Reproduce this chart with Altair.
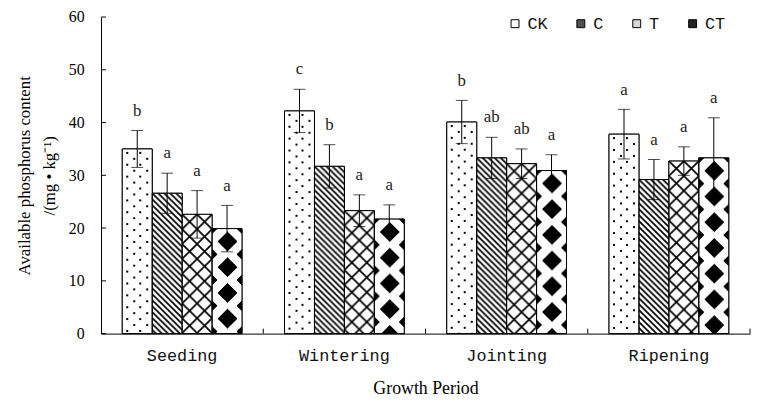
import base64
import altair as alt
import pandas as pd

# ---------------- data ----------------
periods = ["Seeding", "Wintering", "Jointing", "Ripening"]
treatments = ["CK", "C", "T", "CT"]

ck_vals = [35.0, 42.2, 40.1, 37.8]
c_vals = [26.6, 31.7, 33.3, 29.2]
t_vals = [22.6, 23.3, 32.2, 32.7]
ct_vals = [19.9, 21.7, 30.9, 33.3]

ck_err = [3.5, 4.1, 4.1, 4.7]
c_err = [3.8, 4.1, 3.9, 3.8]
t_err = [4.5, 3.0, 2.8, 2.7]
ct_err = [4.4, 2.7, 3.0, 7.6]

ck_sig = ["b", "c", "b", "a"]
c_sig = ["a", "b", "ab", "a"]
t_sig = ["a", "a", "ab", "a"]
ct_sig = ["a", "a", "a", "a"]

y_ticks = [0, 10, 20, 30, 40, 50, 60]

# ---------------- fill patterns (SVG tiles) ----------------
PLOT_W = 656
PLOT_H = 320
STEP = PLOT_W / len(periods)
GROUP_W = 121
BAR_W = GROUP_W / len(treatments)
IMG_H = 340


def svg_uri(pattern_body, tw, th):
    svg = (
        '<svg xmlns="http://www.w3.org/2000/svg" width="30" height="340" '
        'viewBox="0 0 30 340" shape-rendering="crispEdges">'
        f'<defs><pattern id="p" width="{tw}" height="{th}" patternUnits="userSpaceOnUse">'
        f'{pattern_body}</pattern></defs>'
        '<rect width="30" height="340" fill="#ffffff"/>'
        '<rect width="30" height="340" fill="url(#p)"/></svg>'
    )
    return "data:image/svg+xml;base64," + base64.b64encode(svg.encode()).decode()


patterns = {
    "CK": svg_uri(
        '<rect x="4" y="3" width="2.4" height="2.4" fill="#000"/>'
        '<rect x="10.5" y="9" width="2.4" height="2.4" fill="#000"/>',
        13, 12),
    "C": svg_uri(
        '<path d="M0,0 L6,6 M-1,5 L1,7 M5,-1 L7,1" stroke="#000" stroke-width="1.7" '
        'shape-rendering="auto"/>',
        6, 6),
    "T": svg_uri(
        '<path d="M0,0 L15,15 M15,0 L0,15" stroke="#000" stroke-width="1.7" '
        'shape-rendering="auto"/>',
        15, 15),
    "CT": svg_uri(
        '<polygon points="15,3 25,13 15,23 5,13" fill="#000"/>'
        '<polygon points="0,-6 5,0 0,6" fill="#000"/>'
        '<polygon points="0,20 5,26 0,32" fill="#000"/>'
        '<polygon points="30,-6 25,0 30,6" fill="#000"/>'
        '<polygon points="30,20 25,26 30,32" fill="#000"/>',
        30, 26),
}

# ---------------- tables ----------------
vals = {"CK": ck_vals, "C": c_vals, "T": t_vals, "CT": ct_vals}
errs = {"CK": ck_err, "C": c_err, "T": t_err, "CT": ct_err}
sigs = {"CK": ck_sig, "C": c_sig, "T": t_sig, "CT": ct_sig}

rows = []
for tr in treatments:
    for i, p in enumerate(periods):
        v = vals[tr][i]
        e = errs[tr][i]
        rows.append({
            "period": p, "treatment": tr, "value": v,
            "lo": v - e, "hi": v + e, "sig": sigs[tr][i],
            "pattern": patterns[tr],
        })
df = pd.DataFrame(rows)

bounds_df = pd.DataFrame({"b": list(range(1, len(periods) + 1))})
yticks_df = pd.DataFrame({"v": y_ticks})

SERIF = "Liberation Serif"
MONO = "Liberation Mono"

x_enc = alt.X(
    "period:N", sort=periods,
    scale=alt.Scale(paddingInner=(STEP - GROUP_W) / STEP,
                    paddingOuter=(STEP - GROUP_W) / STEP / 2),
    axis=alt.Axis(title="Growth Period", labelAngle=0, ticks=False,
                  labelFont=MONO, labelFontSize=17, labelColor="#111",
                  labelPadding=14, titleFont=SERIF, titleFontSize=18,
                  titleFontWeight="normal", titleColor="#000", titlePadding=17,
                  domainColor="#000", domainWidth=1, zindex=1),
)
xo_enc = alt.XOffset("treatment:N", sort=treatments,
                     scale=alt.Scale(paddingInner=0, paddingOuter=0))
y_scale = alt.Scale(domain=[0, 60], nice=False)
y_axis = alt.Axis(values=y_ticks, ticks=False, grid=False,
                  title=["Available phosphorus content", "/(mg • kg⁻¹)"],
                  labelFont=SERIF, labelFontSize=16, labelColor="#000",
                  labelPadding=17, titleFont=SERIF, titleFontSize=17,
                  titleFontWeight="normal", titleColor="#000",
                  titleLineHeight=25, titlePadding=10,
                  domainColor="#000", domainWidth=1, zindex=1)

base = alt.Chart(df).encode(x=x_enc, xOffset=xo_enc)

fill_bars = base.mark_bar(stroke="black", strokeWidth=1).encode(
    y=alt.Y("value:Q", scale=y_scale, axis=y_axis),
    color=alt.Color("treatment:N", sort=treatments,
                    scale=alt.Scale(domain=treatments,
                                    range=["#ffffff", "#505050", "#d8d8d8", "#222222"]),
                    legend=alt.Legend(title=None, orient="none", direction="horizontal",
                                      legendX=410, legendY=-2, symbolType="square",
                                      symbolSize=64, symbolStrokeColor="black",
                                      symbolStrokeWidth=1, labelFont=MONO,
                                      labelFontSize=17, labelColor="#111",
                                      labelOffset=4, columnPadding=24.5, padding=0)),
)

pattern_imgs = base.mark_image(width=BAR_W, height=IMG_H, aspect=False,
                               align="center", baseline="top", clip=True).encode(
    y=alt.Y("value:Q", scale=y_scale, axis=y_axis),
    url=alt.Url("pattern:N"),
)

outline = base.mark_bar(filled=False, stroke="black", strokeWidth=1).encode(
    y=alt.Y("value:Q", scale=y_scale, axis=y_axis),
)

err_rule = base.mark_rule(color="black", strokeWidth=1).encode(
    y=alt.Y("lo:Q", scale=y_scale, axis=y_axis), y2="hi:Q")
cap_hi = base.mark_tick(color="black", thickness=1, size=12).encode(
    y=alt.Y("hi:Q", scale=y_scale, axis=y_axis))
cap_lo = base.mark_tick(color="black", thickness=1, size=12).encode(
    y=alt.Y("lo:Q", scale=y_scale, axis=y_axis))

letters = base.mark_text(baseline="alphabetic", dy=-15, font=SERIF, fontSize=17,
                         color="#222222").encode(
    y=alt.Y("hi:Q", scale=y_scale, axis=y_axis), text="sig:N")

y_tick_marks = alt.Chart(yticks_df).mark_rule(color="black", strokeWidth=1).encode(
    y=alt.Y("v:Q", scale=y_scale, axis=y_axis),
    x=alt.value(0), x2=alt.value(5),
)

band_layers = alt.layer(
    fill_bars, pattern_imgs, outline, err_rule, cap_hi, cap_lo, letters, y_tick_marks,
)

x_ticks = alt.Chart(bounds_df).mark_rule(color="black", strokeWidth=1).encode(
    x=alt.X("b:Q", scale=alt.Scale(domain=[0, len(periods)], nice=False), axis=None),
    y=alt.value(PLOT_H), y2=alt.value(PLOT_H - 5),
)

chart = alt.layer(band_layers, x_ticks).resolve_scale(x="independent").properties(
    width=PLOT_W, height=PLOT_H,
    autosize=alt.AutoSizeParams(type="none"),
    padding={"left": 94, "top": 7, "right": 2, "bottom": 66},
    background="white",
).configure_view(strokeWidth=0).configure_axisY(titleLineHeight=25)

chart.save("out.html", embed_options={"renderer": "svg", "actions": False})
